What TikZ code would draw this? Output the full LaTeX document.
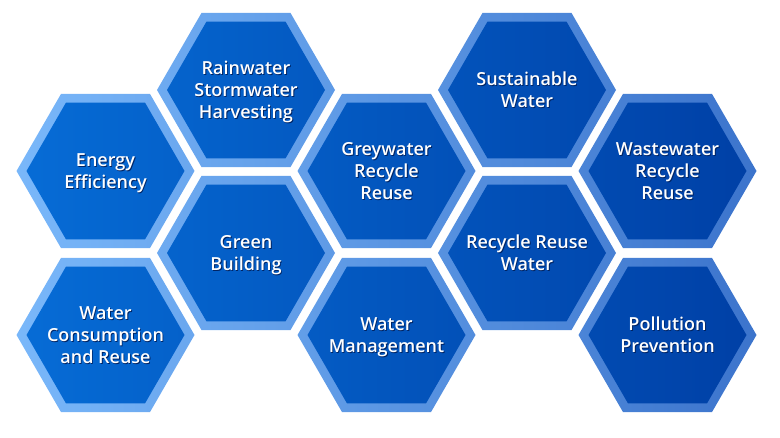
\documentclass[tikz,border=0pt]{standalone}
\usepackage{fontspec}
\setmainfont{Open Sans}[BoldFont={Open Sans Semibold}]
\usetikzlibrary{shapes.geometric}
\definecolor{bordL}{RGB}{122,184,250}
\definecolor{bordR}{RGB}{60,116,204}
\definecolor{fillL}{RGB}{6,108,214}
\definecolor{fillR}{RGB}{0,64,166}
\definecolor{shadowc}{RGB}{0,36,100}
\newcommand\hextxt[1]{\fontsize{18}{22}\selectfont\bfseries\leavevmode
  \raisebox{0pt}[\dimexpr\height+5.5pt\relax][\depth]{%
  \rlap{\kern0.9pt\raisebox{-1.1pt}{\color{shadowc}\begin{tabular}{@{}c@{}}#1\end{tabular}}}%
  \begin{tabular}{@{}c@{}}#1\end{tabular}}}
\newcommand\hexcell[4]{%
  \pgfmathtruncatemacro\pl{100-((#2-105)/741)*100}%
  \pgfmathtruncatemacro\pr{100-((#2+73)/741)*100}%
  \colorlet{#1obL}{bordL!\pl!bordR}\colorlet{#1obR}{bordL!\pr!bordR}%
  \colorlet{#1ifL}{fillL!\pl!fillR}\colorlet{#1ifR}{fillL!\pr!fillR}%
  \pgfdeclarehorizontalshading{sh#1o}{100bp}{color(0bp)=(#1obL); color(25bp)=(#1obL); color(75bp)=(#1obR); color(100bp)=(#1obR)}%
  \pgfdeclarehorizontalshading{sh#1i}{100bp}{color(0bp)=(#1ifL); color(25bp)=(#1ifL); color(75bp)=(#1ifR); color(100bp)=(#1ifR)}%
  \node[hexouter, shading=sh#1o] (#1o) at (#2,#3) {};
  \node[hexinner, shading=sh#1i] (#1) at (#2,#3) {};
  \node[hextext] (#1t) at (#1.center) {\hextxt{#4}};
}
\tikzset{
  hexouter/.style={regular polygon, regular polygon sides=6, minimum size=178pt, inner sep=0pt, outer sep=0pt},
  hexinner/.style={regular polygon, regular polygon sides=6, minimum size=158pt, inner sep=0pt, outer sep=0pt},
  hextext/.style={inner sep=0pt, outer sep=0pt, text=white},
}
\begin{document}
\begin{tikzpicture}[x=1pt,y=-1pt]
\useasboundingbox (0,0) rectangle (780,438);
\hexcell{energy}{105.5}{171}{Energy\\Efficiency}
\hexcell{consumption}{105.5}{335}{Water\\Consumption\\and Reuse}
\hexcell{rainwater}{246}{90}{Rainwater\\Stormwater\\Harvesting}
\hexcell{green}{246}{253}{Green\\Building}
\hexcell{greywater}{386.5}{171}{Greywater\\Recycle\\Reuse}
\hexcell{management}{386.5}{335}{Water\\Management}
\hexcell{sustainable}{527}{90}{Sustainable\\Water}
\hexcell{recycle}{527}{253}{Recycle Reuse\\Water}
\hexcell{wastewater}{667.5}{171}{Wastewater\\Recycle\\Reuse}
\hexcell{pollution}{667.5}{335}{Pollution\\Prevention}
\end{tikzpicture}
\end{document}
